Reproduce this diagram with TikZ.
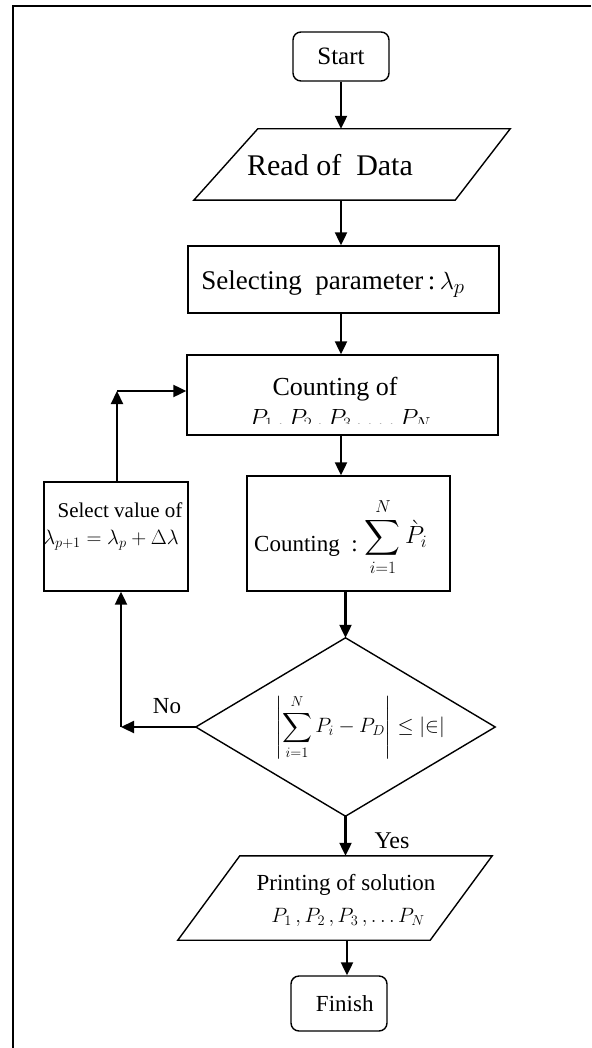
\documentclass[tikz,border=0pt]{standalone}
\usepackage{fontspec}
\setmainfont{Liberation Serif}
\usepackage{amsmath}
\usetikzlibrary{arrows.meta,calc}
\newcommand\fsz[1]{\fontsize{#1}{#1}\selectfont}
\begin{document}
\begin{tikzpicture}[x=1pt,y=-1pt,
  frame/.style={line width=2.2pt},
  shapeline/.style={line width=1.4pt},
  boxnode/.style={draw, shapeline, inner sep=0pt},
  term/.style={boxnode, rounded corners=8pt},
  ghost/.style={inner sep=0pt, draw=none},
  txt/.style={inner sep=0pt, anchor=base},
  arr/.style={line width=2.2pt, -{Triangle[length=13pt,width=12pt]}}]
\useasboundingbox (0,0) rectangle (591,1048);
\fill[white] (0,0) rectangle (591,1048);
\draw[frame] (13,1048) -- (13,6) -- (591,6);

% Start
\node[term, minimum width=96pt, minimum height=49pt, font=\fsz{25}] (start) at (341,56.5) {Start};

% Read of Data
\node[ghost, minimum width=316pt, minimum height=71pt] (read) at (352,164.5) {};
\draw[shapeline] ([xshift=64pt]read.north west) -- (read.north east)
  -- ([xshift=-55pt]read.south east) -- (read.south west) -- cycle;
\node[txt, font=\fsz{30}] (readt) at (330,176) {Read of\ \ Data};

% Selecting parameter
\node[boxnode, minimum width=311pt, minimum height=67pt] (sel) at (343.5,279.5) {};
\node[txt, font=\fsz{27}] (selt) at (333,290) {Selecting\ \ parameter\,:\,{\fsz{30}$\lambda_{p}$}};

% Counting of
\node[boxnode, minimum width=311pt, minimum height=80pt] (cnt) at (342.5,395) {};
\node[txt, font=\fsz{26}] (cntt) at (335,395) {Counting of};
\begin{scope}
  \clip (200,400) rectangle (480,423);
  \node[txt, font=\fsz{25}] (cntp) at (340,426) {$P_1\,,P_2\,,P_3\,,\dots P_N$};
\end{scope}

% Counting sum
\node[boxnode, minimum width=203pt, minimum height=115pt] (sum) at (348.5,533.5) {};
\node[txt, font=\fsz{23}, anchor=base west] (sumw) at (254,551) {Counting\ \ :};
\node[inner sep=0pt, font=\fsz{24}] (summ) at (396,537) {$\displaystyle\sum_{i=1}^{N}\grave{P}_{i}$};

% Select value
\node[boxnode, minimum width=144pt, minimum height=109pt] (val) at (116,536.5) {};
\node[txt, font=\fsz{21}] (valt) at (120,517) {Select value of};
\node[txt, font=\fsz{22}] (valm) at (111,544) {$\lambda_{p+1}=\lambda_p+\Delta\lambda$};

% Decision
\node[ghost, minimum width=299pt, minimum height=178pt] (dec) at (345.5,727) {};
\draw[shapeline] (dec.north) -- (dec.east) -- (dec.south) -- (dec.west) -- cycle;
\node[inner sep=0pt, font=\fsz{22}] (dect) at (360,727) {$\displaystyle\left|\sum_{i=1}^{N}P_i-P_D\right|\le\lvert\in\rvert$};

% Printing
\node[ghost, minimum width=314pt, minimum height=84pt] (prn) at (335,898) {};
\draw[shapeline] ([xshift=62pt]prn.north west) -- (prn.north east)
  -- ([xshift=-62pt]prn.south east) -- (prn.south west) -- cycle;
\node[txt, font=\fsz{23}] (prnt) at (346,890) {Printing of solution};
\node[txt, font=\fsz{21}] (prnm) at (348,922) {$P_1\,,P_2\,,P_3\,,\dots P_N$};

% Finish
\node[term, minimum width=96pt, minimum height=55pt, font=\fsz{23}] (fin) at (339,1003.5) {\ \ Finish};

% coordinates for bends
\coordinate (loopc) at (117,391);
\coordinate (noc) at (121,727);

% connectors
\draw[arr] (start.south) -- (start.south |- read.north);
\draw[arr] (start.south |- read.south) -- (start.south |- sel.north);
\draw[arr] (start.south |- sel.south) -- (start.south |- cnt.north);
\draw[arr] (start.south |- cnt.south) -- (start.south |- sum.north);
\draw[arr] (dec.north |- sum.south) -- (dec.north);
\draw[arr] (val.north -| loopc) -- (loopc);
\draw[arr] (loopc) -- (loopc -| cnt.west);
\draw[arr] (dec.west) -- (noc);
\draw[arr] (noc) -- (noc |- val.south);
\draw[arr] (dec.south) -- (dec.south |- prn.north);
\draw[arr] ([xshift=12pt]prn.south) -- ([xshift=12pt]prn.south |- fin.north);

% labels
\node[txt, font=\fsz{23}] (nolbl) at (167,713) {No};
\node[txt, font=\fsz{24}] (yeslbl) at (392,848) {Yes};
\end{tikzpicture}
\end{document}
